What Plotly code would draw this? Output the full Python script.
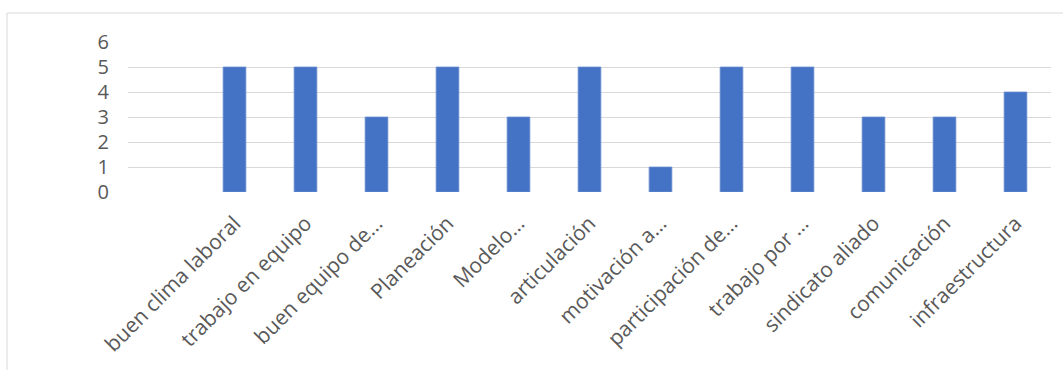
import plotly.graph_objects as go

categories = [" ", "buen clima laboral", "trabajo en equipo", "buen equipo de…", "Planeación",
              "Modelo…", "articulación", "motivación a…", "participación de…",
              "trabajo por …", "sindicato aliado", "comunicación", "infraestructura"]
values = [None, 5, 5, 3, 5, 3, 5, 1, 5, 5, 3, 3, 4]
y_ticks = [0, 1, 2, 3, 4, 5, 6]

W, H = 1063, 370
L, R, T, B = 128, 12, 42, 178
pw, ph = W - L - R, H - T - B

fig = go.Figure(go.Bar(x=categories, y=values, marker=dict(color="#4472C4", line=dict(width=0.8, color="#6d8fd0")),
                       hoverinfo="x+y"))

font_family = "Open Sans"
fig.update_layout(
    width=W, height=H,
    margin=dict(l=L, r=R, t=T, b=B, pad=0),
    paper_bgcolor="white", plot_bgcolor="white",
    bargap=0.68, showlegend=False,
    font=dict(family=font_family, color="#595959"),
    xaxis=dict(type="category", tickangle=-45, tickfont=dict(size=21, color="#595959"),
               showgrid=False, showline=False, zeroline=False, ticks="",
               ticklabelstandoff=14, range=[-0.5, len(categories) - 0.5]),
    yaxis=dict(range=[0, 6], tickvals=y_ticks, tickfont=dict(size=20, color="#595959"),
               showgrid=True, gridcolor="#d9d9d9", gridwidth=1.4, zeroline=False,
               showline=False, ticks="", ticklabelstandoff=18),
    shapes=[dict(type="rect", xref="paper", yref="paper",
                 x0=(7 - L) / pw, x1=(W + 20 - L) / pw,
                 y0=-(H + 20 - T - ph) / ph, y1=1 + (T - 13) / ph,
                 line=dict(color="#d9d9d9", width=1), fillcolor="rgba(0,0,0,0)", layer="below")],
)

fig.write_html("out.html")
